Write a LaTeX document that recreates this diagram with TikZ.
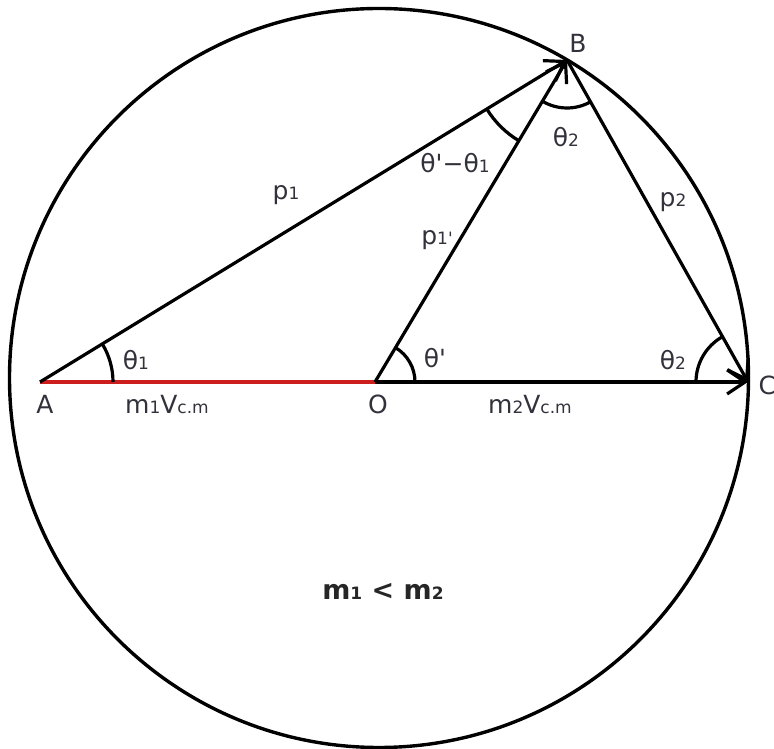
\documentclass[tikz,border=0pt]{standalone}
\usepackage{fontspec}
\newfontfamily\lbfont{DejaVu Sans}
\usetikzlibrary{arrows.meta,angles}
\definecolor{txt}{RGB}{50,50,60}
\definecolor{redline}{RGB}{205,30,30}
\newcommand{\sd}[1]{{\fontsize{17}{17}\selectfont #1}}
\begin{document}
\begin{tikzpicture}[x=1pt,y=1pt,
  line width=3.2pt,
  vec/.style={-{Straight Barb[length=18pt,width=24pt,line width=3.2pt]}},
  redl/.style={draw=redline, line width=3.4pt},
  lbl/.style={text=txt, font=\lbfont\fontsize{25}{28}\selectfont, inner sep=0pt},
  ang/.style={draw, line width=3.2pt}]
\useasboundingbox (0,0) rectangle (774,749);
\coordinate (A) at (40,367);
\coordinate (O) at (375,367);
\coordinate (C) at (748,367);
\coordinate (B) at (567,689);
\coordinate (Z) at (379,371);
\draw[line width=3.4pt] (Z) circle (369.5);
\draw[redl] (A) -- (O);
\draw[vec] (O) -- (C);
\draw[vec] (A) -- (B);
\draw[vec] (O) -- (B);
\draw[vec] (B) -- (C);
\pic[ang, angle radius=73pt] {angle=O--A--B};
\pic[ang, angle radius=40pt] {angle=C--O--B};
\pic[ang, angle radius=52pt] {angle=B--C--O};
\pic[ang, angle radius=48pt] {angle=O--B--C};
\pic[ang, angle radius=94pt] {angle=A--B--O};
\node[lbl] (lA) at (45,345) {A};
\node[lbl] (lO) at (378,345) {O};
\node[lbl, anchor=west] (lC) at (757,364) {C};
\node[lbl] (lB) at (578,706) {B};
\node[lbl] (t1) at (136,389) {θ\sd{1}};
\node[lbl] (tp) at (435,391) {θ'};
\node[lbl] (t2c) at (673,389) {θ\sd{2}};
\node[lbl] (t2b) at (566,612) {θ\sd{2}};
\node[lbl] (tdiff) at (455,586) {θ'−θ\sd{1}};
\node[lbl] (m1v) at (167,344) {m\sd{1}V\sd{c.m}};
\node[lbl] (m2v) at (530,344) {m\sd{2}V\sd{c.m}};
\node[lbl] (p1) at (286,554) {p\sd{1}};
\node[lbl] (p1p) at (437,509) {p\sd{1'}};
\node[lbl] (p2) at (673,547) {p\sd{2}};
\node[lbl, font=\lbfont\bfseries\fontsize{27}{30}\selectfont, text=black!85] (mm) at (383,158) {m\sd{1} < m\sd{2}};
\end{tikzpicture}
\end{document}
